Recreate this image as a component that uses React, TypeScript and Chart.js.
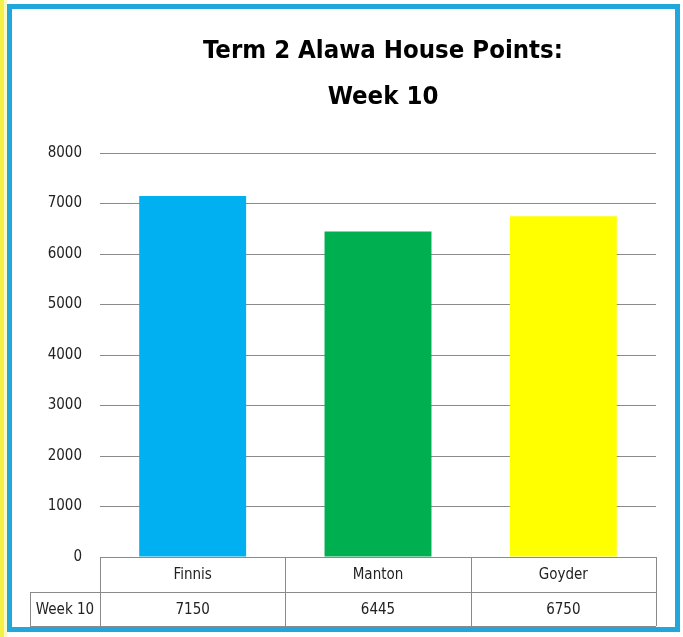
import React, { useEffect, useRef } from "react";
import { Chart, registerables } from "chart.js";

Chart.register(...registerables);

const houses = ["Finnis", "Manton", "Goyder"];
const week10Points = [7150, 6445, 6750];
const barColors = ["#00B0F0", "#00B050", "#FFFF00"];
const seriesLabel = "Week 10";
const titleLines = ["Term 2 Alawa House Points:", "Week 10"];
const yMin = 0;
const yMax = 8000;
const yStep = 1000;

const FONT = "'Liberation Sans Narrow', 'DejaVu Sans Condensed', 'Open Sans', sans-serif";
const LINE = "#8a8a8a";

const framePlugin = {
  id: "frame",
  beforeDraw(chart: any) {
    const { ctx, width, height } = chart;
    ctx.save();
    ctx.fillStyle = "#ffffff";
    ctx.fillRect(0, 0, width, height);
    ctx.fillStyle = "#F4F046";
    ctx.fillRect(0, 0, 4, height);
    ctx.fillStyle = "#FBF9C8";
    ctx.fillRect(4, 0, 3, height);
    ctx.strokeStyle = "#22A7DD";
    ctx.lineWidth = 5;
    ctx.strokeRect(9.5, 6.5, 668, 623);
    ctx.restore();
  },
};

const titleTablePlugin = {
  id: "titleTable",
  afterDraw(chart: any) {
    const { ctx, chartArea } = chart;
    const xs = chart.scales.x;
    ctx.save();
    // Title
    ctx.fillStyle = "#000000";
    ctx.textAlign = "center";
    ctx.textBaseline = "middle";
    ctx.font = `bold 30px ${FONT}`;
    const w = ctx.measureText(titleLines[0]).width;
    const size = (30 * 360) / w;
    ctx.font = `bold ${size}px ${FONT}`;
    ctx.fillText(titleLines[0], 383, 51);
    ctx.fillText(titleLines[1], 383, 97);

    // Data table
    const left = chartArea.left;
    const right = chartArea.right;
    const top = chartArea.bottom;
    const mid = top + 35;
    const bottom = mid + 34;
    const labelLeft = 30;
    const n = houses.length;
    const band = (right - left) / n;
    ctx.strokeStyle = LINE;
    ctx.lineWidth = 1;
    ctx.beginPath();
    ctx.moveTo(left, top + 0.5);
    ctx.lineTo(right, top + 0.5);
    ctx.moveTo(labelLeft, mid + 0.5);
    ctx.lineTo(right, mid + 0.5);
    ctx.moveTo(labelLeft, bottom + 0.5);
    ctx.lineTo(right, bottom + 0.5);
    ctx.moveTo(labelLeft + 0.5, mid);
    ctx.lineTo(labelLeft + 0.5, bottom);
    for (let i = 0; i <= n; i++) {
      const x = Math.round(left + band * i) + 0.5;
      ctx.moveTo(x, top);
      ctx.lineTo(x, bottom);
    }
    ctx.stroke();

    ctx.fillStyle = "#222222";
    ctx.font = `15px ${FONT}`;
    for (let i = 0; i < n; i++) {
      const cx = xs.getPixelForValue(i);
      ctx.fillText(houses[i], cx, (top + mid) / 2 + 1);
      ctx.fillText(String(week10Points[i]), cx, (mid + bottom) / 2 + 1);
    }
    ctx.fillText(seriesLabel, (labelLeft + left) / 2, (mid + bottom) / 2 + 1);
    ctx.restore();
  },
};

export default function App() {
  const ref = useRef<HTMLCanvasElement | null>(null);
  useEffect(() => {
    document.body.style.margin = "0";
    if (!ref.current) return;
    const chart = new Chart(ref.current, {
      type: "bar",
      data: {
        labels: houses,
        datasets: [
          {
            label: seriesLabel,
            data: week10Points,
            backgroundColor: barColors,
            borderWidth: 0,
            barPercentage: 0.577,
            categoryPercentage: 1,
          },
        ],
      },
      options: {
        responsive: false,
        animation: false,
        layout: { padding: { left: 44, right: 27, top: 153, bottom: 80 } },
        plugins: {
          legend: { display: false },
          tooltip: { enabled: false },
          title: { display: false },
        },
        scales: {
          x: { display: false },
          y: {
            min: yMin,
            max: yMax,
            afterFit: (scale: any) => {
              scale.width = 56;
            },
            ticks: {
              stepSize: yStep,
              padding: 18,
              color: "#222222",
              font: { family: FONT, size: 15 },
              callback: (v: any) => String(v),
            },
            grid: { color: LINE, drawTicks: false },
            border: { display: false },
          },
        },
      },
      plugins: [framePlugin, titleTablePlugin],
    });
    return () => chart.destroy();
  }, []);
  return (
    <div style={{ width: 683, height: 637 }}>
      <canvas ref={ref} width={683} height={637} style={{ display: "block" }} />
    </div>
  );
}
